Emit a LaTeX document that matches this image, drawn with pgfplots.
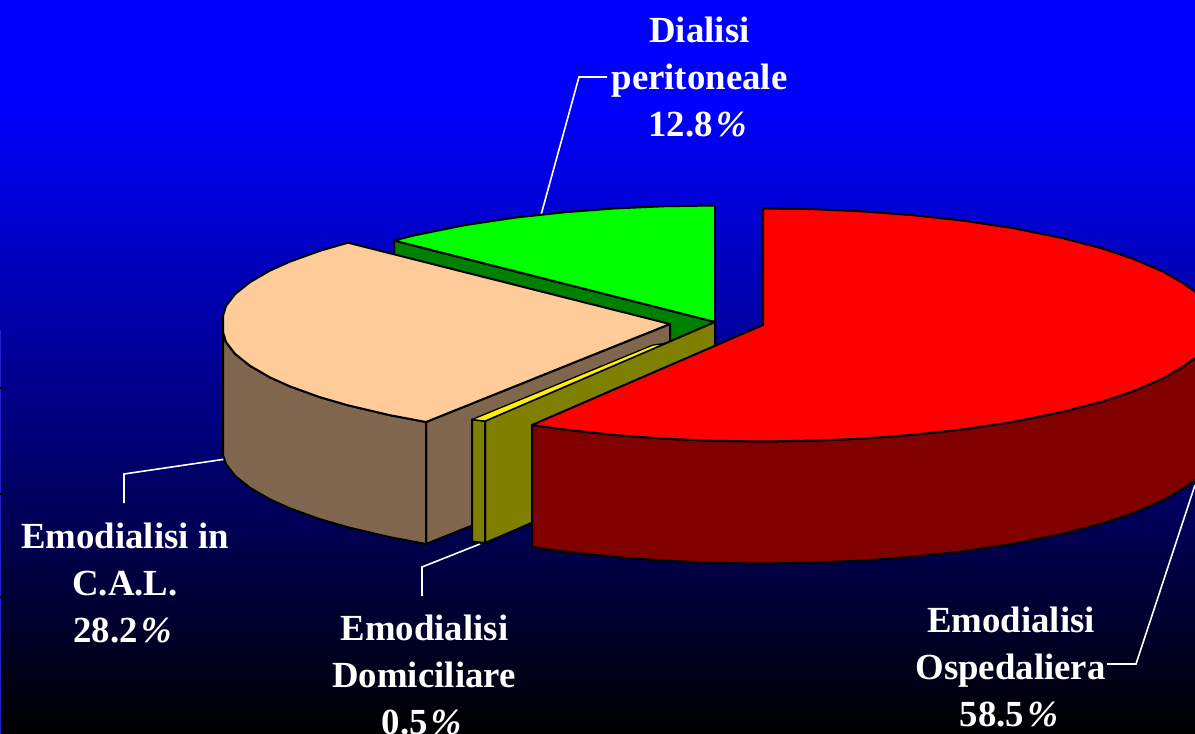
\documentclass[border=0pt]{standalone}
\usepackage{fontspec}
\setmainfont{Liberation Serif}
\usepackage{pgfplots}
\pgfplotsset{compat=1.18}
\definecolor{peach}{HTML}{FFCC99}
\definecolor{brownside}{HTML}{80664D}
\definecolor{oliveside}{HTML}{808000}
\definecolor{darkgreenside}{HTML}{008000}
\definecolor{darkredside}{HTML}{800000}
\definecolor{edgeblue}{HTML}{2020C8}
\pgfdeclareverticalshading{bgfade}{100bp}{color(0bp)=(black); color(25bp)=(black); color(68bp)=(blue); color(100bp)=(blue)}
\tikzset{
  face/.style={draw=black, line width=2pt, line join=round},
  leader/.style={draw=white, line width=1.6pt, line join=miter},
  lab/.style={text=white, font=\fontsize{36.8}{47}\selectfont\bfseries, anchor=base, inner sep=0pt},
}
\newcommand{\pct}{{\kern3pt\itshape\%}}

\begin{document}
\begin{tikzpicture}
\path[clip, use as bounding box] (0,0) rectangle (1195pt,734pt);
\begin{axis}[
    at={(0,734pt)}, anchor=origin,
    scale only axis,
    width=1195pt, height=734pt,
    xmin=0, xmax=1195, ymin=0, ymax=734,
    y dir=reverse,
    hide axis,
    clip=false,
]
% background
\addplot[draw=none, shading=bgfade] coordinates {(0,0) (1195,0) (1195,734) (0,734)} -- cycle;
\addplot[draw=edgeblue, line width=1.2pt] coordinates {(0.5,330) (0.5,734)};
\addplot[draw=black, line width=1.5pt] coordinates {(0,388) (3,388)};
\addplot[draw=black, line width=1.5pt] coordinates {(0,494) (3,494)};
\addplot[draw=black, line width=1.5pt] coordinates {(0,597) (3,597)};

% leader lines
\addplot[leader] coordinates {(541,215) (579,77) (607,77)};
\addplot[leader] coordinates {(226,459) (124,474) (124,503)};
\addplot[leader] coordinates {(480,544) (422,567) (422,596)};
\addplot[leader] coordinates {(1195,485) (1136,664) (1107,664)};

% dialisi peritoneale, side then top
\addplot[face, fill=darkgreenside] coordinates {(394,240.5) (715,322) (715,444) (394,362.5)} -- cycle;
\addplot[face, fill=green] coordinates {(715,322) (715,205.5) (665,206.2) (615,208.4) (565,212.2) (515,217.6) (465,225.1) (415,235.2) (394,240.5)} -- cycle;

% emodialisi in C.A.L.
\addplot[face, fill=brownside] coordinates {(426,422) (670,324) (670,446) (426,544)} -- cycle;
\addplot[face, fill=brownside] coordinates {(223,332) (226,342) (235,353.8) (250,365.8) (270,377.4) (290,386.4) (320,397.2) (348,405.3) (390,415.2) (426,422) (426,544) (390,537.2) (348,527.3) (320,519.2) (290,508.4) (270,499.4) (250,487.8) (235,475.8) (226,464) (223,455)} -- cycle;
\addplot[face, fill=peach] coordinates {(670,324) (348,242.7) (320,250.8) (290,261.6) (270,270.6) (250,282.2) (235,294.2) (226,306) (223,316) (223,332) (226,342) (235,353.8) (250,365.8) (270,377.4) (290,386.4) (320,397.2) (348,405.3) (390,415.2) (426,422)} -- cycle;

% emodialisi domiciliare
\addplot[face, fill=oliveside] coordinates {(485,421) (715,322) (715,444) (485,543)} -- cycle;
\addplot[face, fill=oliveside] coordinates {(472,419.5) (485,421) (485,543) (472,541.5)} -- cycle;
\addplot[face, line width=1.3pt, fill=yellow] coordinates {(472,419.5) (485,421) (665,343.5) (653,345)} -- cycle;

% emodialisi ospedaliera
\addplot[face, fill=darkredside] coordinates {(532,425) (563,429.4) (613,434.8) (663,438.6) (713,440.8) (763,441.5) (813,440.6) (863,438.6) (913,434.8) (963,429.4) (1013,421.9) (1063,411.8) (1103,401.3) (1133,391.3) (1163,378.4) (1183,366.8) (1197,356.5) (1197,479) (1183,488.8) (1163,500.4) (1133,513.3) (1103,523.3) (1063,533.8) (1013,543.9) (963,551.4) (913,556.8) (863,560.6) (813,562.6) (763,563.5) (713,562.8) (663,560.6) (613,556.8) (563,551.4) (532,547)} -- cycle;
\addplot[face, fill=red] coordinates {(763,325) (763,208.5) (813,209.2) (863,211.4) (913,215.2) (963,220.6) (1013,228.1) (1063,238.2) (1103,248.7) (1133,258.7) (1163,271.6) (1183,283.2) (1197,293) (1197,356.5) (1183,366.8) (1163,378.4) (1133,391.3) (1103,401.3) (1063,411.8) (1013,421.9) (963,429.4) (913,434.8) (863,438.6) (813,440.6) (763,441.5) (713,440.8) (663,438.6) (613,434.8) (563,429.4) (532,425)} -- cycle;

% labels
\node[lab] at (axis cs:699.5,42) {Dialisi};
\node[lab] at (axis cs:699.5,89) {peritoneale};
\node[lab] at (axis cs:697.5,136) {12.8\pct};
\node[lab] at (axis cs:125,548) {Emodialisi in};
\node[lab] at (axis cs:125,595) {C.A.L.};
\node[lab] at (axis cs:122.5,642) {28.2\pct};
\node[lab] at (axis cs:424.5,640) {Emodialisi};
\node[lab] at (axis cs:424,687) {Domiciliare};
\node[lab] at (axis cs:421.5,734) {0.5\pct};
\node[lab] at (axis cs:1011,632) {Emodialisi};
\node[lab] at (axis cs:1010.5,679) {Ospedaliera};
\node[lab] at (axis cs:1009,726) {58.5\pct};
\end{axis}
\end{tikzpicture}
\end{document}
